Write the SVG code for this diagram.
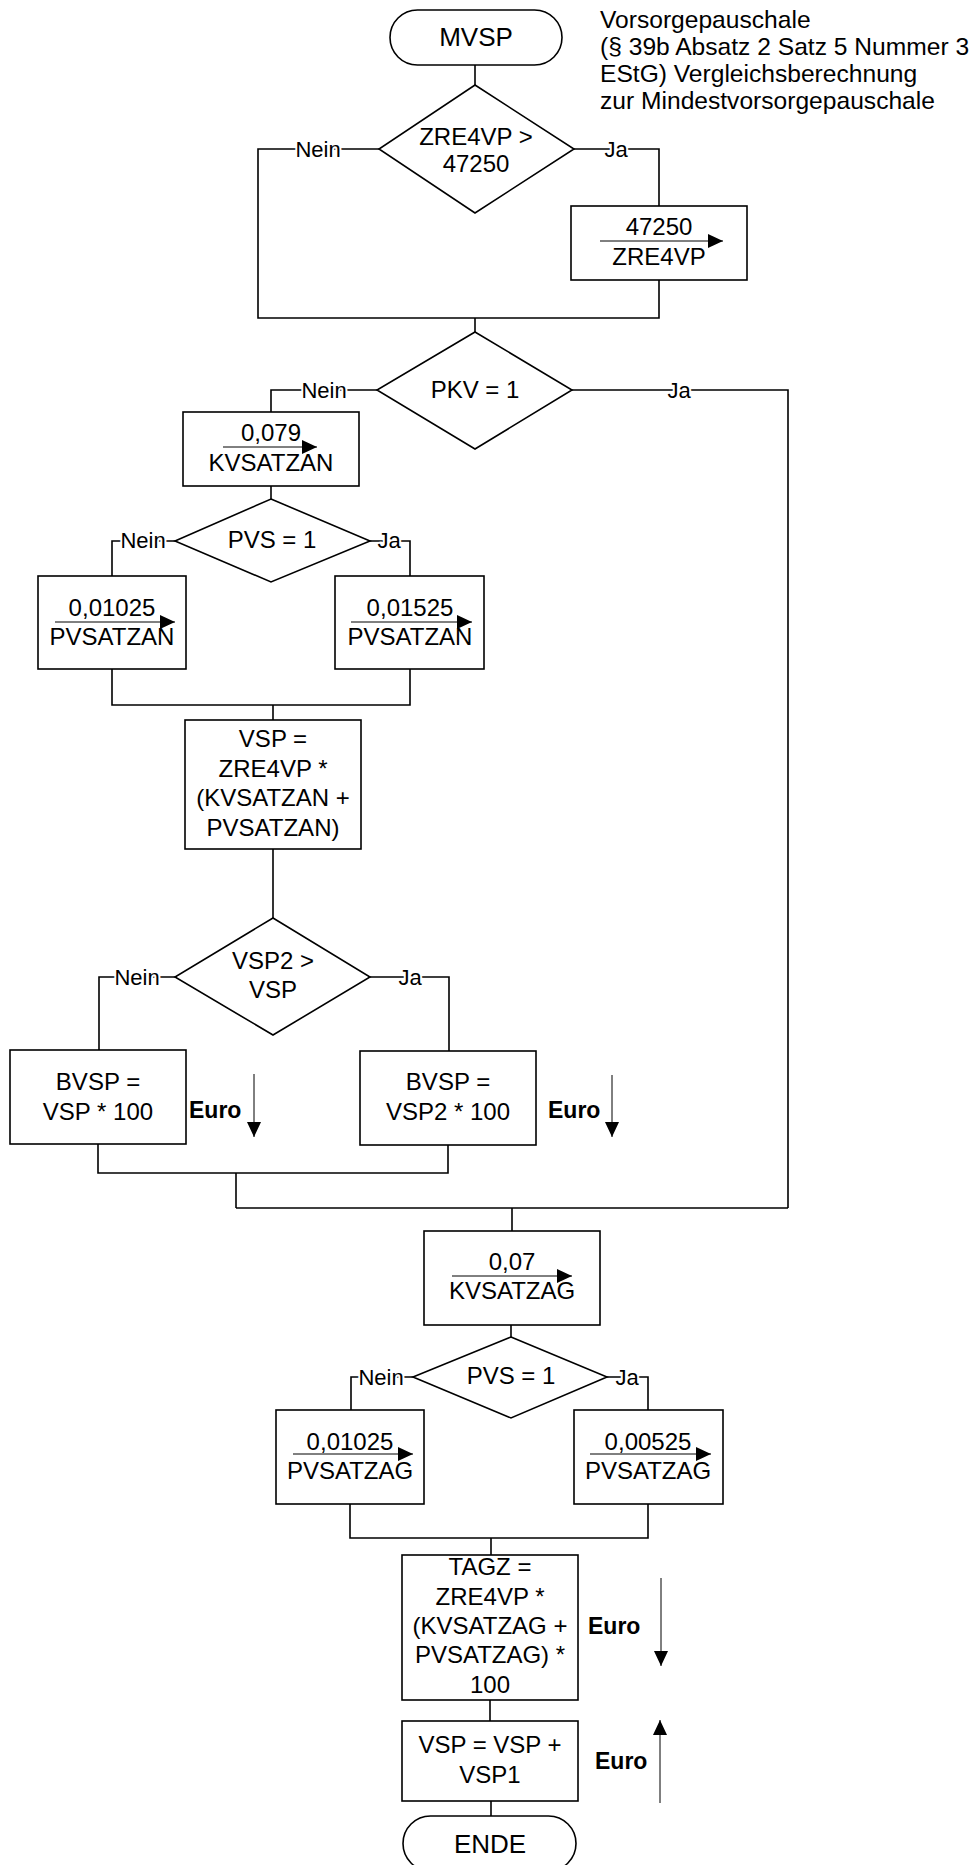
<svg xmlns="http://www.w3.org/2000/svg" width="977" height="1865" viewBox="0 0 977 1865">
<style>
  .shape { fill: #ffffff; stroke: #000000; stroke-width: 1.6; }
  .conn { fill: none; stroke: #000000; stroke-width: 1.6; }
  .t { font-family: "Liberation Sans", Arial, sans-serif; font-size: 24px; fill: #000000; text-anchor: middle; }
  .term { font-size: 26px; }
  .note { font-family: "Liberation Sans", Arial, sans-serif; font-size: 24.6px; fill: #000000; }
  .lbl { font-family: "Liberation Sans", Arial, sans-serif; font-size: 22px; fill: #000000; text-anchor: middle; paint-order: stroke; stroke: #ffffff; stroke-width: 4px; }
  .euro { font-family: "Liberation Sans", Arial, sans-serif; font-size: 23px; font-weight: bold; fill: #000000; }
  .frac { stroke: #000000; stroke-width: 1; marker-end: url(#tri); }
  .earr { stroke: #000000; stroke-width: 1; marker-end: url(#tri); }
</style>
<defs>
  <marker id="tri" markerUnits="userSpaceOnUse" markerWidth="16" markerHeight="15" refX="15" refY="7" orient="auto">
    <path d="M0,0 L15,7 L0,14 Z" fill="#000000"/>
  </marker>
</defs>
<rect width="977" height="1865" fill="#ffffff"/>

<g id="connectors">
  <line class="conn" x1="475" y1="65" x2="475" y2="85"/>
  <polyline class="conn" points="379,149 258,149 258,318 659,318 659,280"/>
  <polyline class="conn" points="574,149 659,149 659,206"/>
  <line class="conn" x1="475" y1="318" x2="475" y2="332"/>
  <polyline class="conn" points="377,390 271,390 271,412"/>
  <polyline class="conn" points="572,390 788,390 788,1208"/>
  <line class="conn" x1="271" y1="486" x2="271" y2="499"/>
  <polyline class="conn" points="175,541 112,541 112,576"/>
  <polyline class="conn" points="370,541 410,541 410,576"/>
  <polyline class="conn" points="112,669 112,705 410,705 410,669"/>
  <line class="conn" x1="273" y1="705" x2="273" y2="720"/>
  <line class="conn" x1="273" y1="849" x2="273" y2="918"/>
  <polyline class="conn" points="175,977 99,977 99,1050"/>
  <polyline class="conn" points="370,977 449,977 449,1051"/>
  <polyline class="conn" points="98,1144 98,1173 448,1173 448,1145"/>
  <line class="conn" x1="236" y1="1173" x2="236" y2="1208"/>
  <line class="conn" x1="236" y1="1208" x2="788" y2="1208"/>
  <line class="conn" x1="512" y1="1208" x2="512" y2="1231"/>
  <line class="conn" x1="511" y1="1325" x2="511" y2="1337"/>
  <polyline class="conn" points="413,1377 351,1377 351,1410"/>
  <polyline class="conn" points="607,1377 648,1377 648,1410"/>
  <polyline class="conn" points="350,1504 350,1538 648,1538 648,1504"/>
  <line class="conn" x1="491" y1="1538" x2="491" y2="1555"/>
  <line class="conn" x1="490" y1="1700" x2="490" y2="1721"/>
  <line class="conn" x1="491" y1="1801" x2="491" y2="1816"/>

  <text class="lbl" x="318" y="157">Nein</text>
  <text class="lbl" x="616" y="157">Ja</text>
  <text class="lbl" x="324" y="398">Nein</text>
  <text class="lbl" x="679" y="398">Ja</text>
  <text class="lbl" x="143" y="548">Nein</text>
  <text class="lbl" x="389" y="548">Ja</text>
  <text class="lbl" x="137" y="985">Nein</text>
  <text class="lbl" x="410" y="985">Ja</text>
  <text class="lbl" x="381" y="1385">Nein</text>
  <text class="lbl" x="627" y="1385">Ja</text>
</g>

<g id="note">
  <text class="note" x="600" y="28">Vorsorgepauschale</text>
  <text class="note" x="600" y="55">(§ 39b Absatz 2 Satz 5 Nummer 3</text>
  <text class="note" x="600" y="82">EStG) Vergleichsberechnung</text>
  <text class="note" x="600" y="109">zur Mindestvorsorgepauschale</text>
</g>

<g id="start">
  <rect class="shape" x="390" y="10" width="172" height="55" rx="27.5" ry="27.5"/>
  <text class="t term" x="476" y="46">MVSP</text>
</g>

<g id="dec1">
  <polygon class="shape" points="475,85 574,149 475,213 379,149"/>
  <text class="t" x="476" y="145">ZRE4VP &gt;</text>
  <text class="t" x="476" y="172">47250</text>
</g>

<g id="box47250">
  <rect class="shape" x="571" y="206" width="176" height="74"/>
  <text class="t" x="659" y="235">47250</text>
  <line class="frac" x1="600" y1="241" x2="723" y2="241"/>
  <text class="t" x="659" y="265">ZRE4VP</text>
</g>

<g id="decPKV">
  <polygon class="shape" points="475,332 572,390 475,449 377,390"/>
  <text class="t" x="475" y="398">PKV = 1</text>
</g>

<g id="boxKVAN">
  <rect class="shape" x="183" y="412" width="176" height="74"/>
  <text class="t" x="271" y="441">0,079</text>
  <line class="frac" x1="223" y1="447" x2="317" y2="447"/>
  <text class="t" x="271" y="471">KVSATZAN</text>
</g>

<g id="decPVS1">
  <polygon class="shape" points="271,499 370,541 271,582 175,541"/>
  <text class="t" x="272" y="548">PVS = 1</text>
</g>

<g id="boxPVAN1">
  <rect class="shape" x="38" y="576" width="148" height="93"/>
  <text class="t" x="112" y="616">0,01025</text>
  <line class="frac" x1="55" y1="622" x2="175" y2="622"/>
  <text class="t" x="112" y="645">PVSATZAN</text>
</g>

<g id="boxPVAN2">
  <rect class="shape" x="335" y="576" width="149" height="93"/>
  <text class="t" x="410" y="616">0,01525</text>
  <line class="frac" x1="351" y1="622" x2="472" y2="622"/>
  <text class="t" x="410" y="645">PVSATZAN</text>
</g>

<g id="boxVSP">
  <rect class="shape" x="185" y="720" width="176" height="129"/>
  <text class="t" x="273" y="747">VSP =</text>
  <text class="t" x="273" y="777">ZRE4VP *</text>
  <text class="t" x="273" y="806">(KVSATZAN +</text>
  <text class="t" x="273" y="836">PVSATZAN)</text>
</g>

<g id="decVSP2">
  <polygon class="shape" points="273,918 370,977 273,1035 175,977"/>
  <text class="t" x="273" y="969">VSP2 &gt;</text>
  <text class="t" x="273" y="998">VSP</text>
</g>

<g id="boxBVSP1">
  <rect class="shape" x="10" y="1050" width="176" height="94"/>
  <text class="t" x="98" y="1090">BVSP =</text>
  <text class="t" x="98" y="1120">VSP * 100</text>
  <text class="euro" x="189" y="1118">Euro</text>
  <line class="earr" x1="254" y1="1074" x2="254" y2="1137"/>
</g>

<g id="boxBVSP2">
  <rect class="shape" x="360" y="1051" width="176" height="94"/>
  <text class="t" x="448" y="1090">BVSP =</text>
  <text class="t" x="448" y="1120">VSP2 * 100</text>
  <text class="euro" x="548" y="1118">Euro</text>
  <line class="earr" x1="612" y1="1075" x2="612" y2="1137"/>
</g>

<g id="boxKVAG">
  <rect class="shape" x="424" y="1231" width="176" height="94"/>
  <text class="t" x="512" y="1270">0,07</text>
  <line class="frac" x1="452" y1="1276" x2="572" y2="1276"/>
  <text class="t" x="512" y="1299">KVSATZAG</text>
</g>

<g id="decPVS2">
  <polygon class="shape" points="511,1337 607,1377 511,1418 413,1377"/>
  <text class="t" x="511" y="1384">PVS = 1</text>
</g>

<g id="boxPVAG1">
  <rect class="shape" x="276" y="1410" width="148" height="94"/>
  <text class="t" x="350" y="1450">0,01025</text>
  <line class="frac" x1="293" y1="1454" x2="413" y2="1454"/>
  <text class="t" x="350" y="1479">PVSATZAG</text>
</g>

<g id="boxPVAG2">
  <rect class="shape" x="574" y="1410" width="149" height="94"/>
  <text class="t" x="648" y="1450">0,00525</text>
  <line class="frac" x1="590" y1="1454" x2="711" y2="1454"/>
  <text class="t" x="648" y="1479">PVSATZAG</text>
</g>

<g id="boxTAGZ">
  <rect class="shape" x="402" y="1555" width="176" height="145"/>
  <text class="t" x="490" y="1575">TAGZ =</text>
  <text class="t" x="490" y="1605">ZRE4VP *</text>
  <text class="t" x="490" y="1634">(KVSATZAG +</text>
  <text class="t" x="490" y="1663">PVSATZAG) *</text>
  <text class="t" x="490" y="1693">100</text>
  <text class="euro" x="588" y="1634">Euro</text>
  <line class="earr" x1="661" y1="1578" x2="661" y2="1666"/>
</g>

<g id="boxVSPsum">
  <rect class="shape" x="402" y="1721" width="176" height="80"/>
  <text class="t" x="490" y="1753">VSP = VSP +</text>
  <text class="t" x="490" y="1783">VSP1</text>
  <text class="euro" x="595" y="1769">Euro</text>
  <line class="earr" x1="660" y1="1803" x2="660" y2="1720"/>
</g>

<g id="end">
  <rect class="shape" x="403" y="1816" width="173" height="55" rx="27.5" ry="27.5"/>
  <text class="t term" x="490" y="1853">ENDE</text>
</g>
</svg>
